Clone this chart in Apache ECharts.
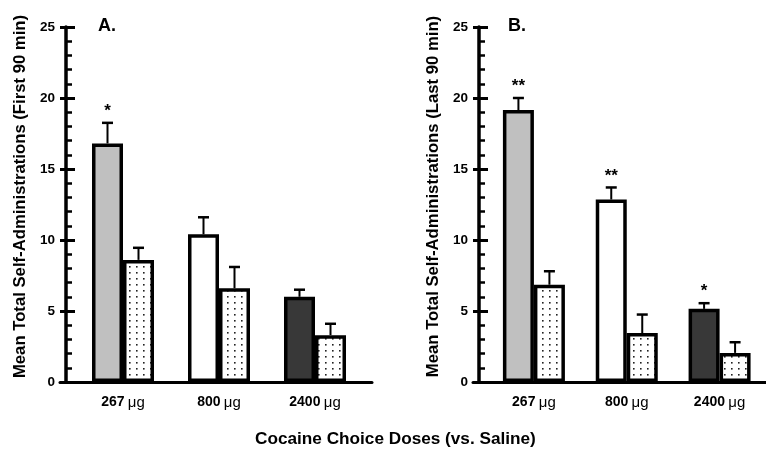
<!DOCTYPE html>
<html><head><meta charset="utf-8">
<script src="https://cdn.jsdelivr.net/npm/echarts@6/dist/echarts.min.js"></script>
<style>html,body{margin:0;padding:0;background:#fff}#c{width:766px;height:449px}</style>
</head><body><div id="c"></div>
<script>
// ---- data ----
const categories = ['267', '800', '2400'];
const catUnit = 'μg';
const aCocaine = [16.8, 10.4, 6.0];
const aCocaineSem = [1.45, 1.2, 0.5];
const aSaline = [8.6, 6.6, 3.3];
const aSalineSem = [0.85, 1.5, 0.8];
const bCocaine = [19.15, 12.85, 5.15];
const bCocaineSem = [0.85, 0.85, 0.4];
const bSaline = [6.85, 3.45, 2.05];
const bSalineSem = [0.95, 1.3, 0.75];
const sigA = ['*', '', ''];
const sigB = ['**', '**', '*'];
const yTicks = [0, 5, 10, 15, 20, 25];
const titleA = 'A.';
const titleB = 'B.';
const yNameA = 'Mean Total Self-Administrations (First 90 min)';
const yNameB = 'Mean Total Self-Administrations (Last 90 min)';
const xName = 'Cocaine Choice Doses (vs. Saline)';

// ---- styles ----
const FONT = 'Liberation Sans, Arial, sans-serif';
const BAR_W = 31;
const cocaineColors = ['#c0c0c0', '#ffffff', '#383838'];

function dotPattern() {
  const c = document.createElement('canvas');
  c.width = 7; c.height = 6;
  const g = c.getContext('2d');
  g.fillStyle = '#fff'; g.fillRect(0, 0, 7, 6);
  g.fillStyle = '#222'; g.fillRect(3, 2, 1.6, 1.6);
  return c;
}
const dots = { image: dotPattern(), repeat: 'repeat' };

const grids = [
  { left: 75, width: 288, top: 27, height: 355 },   // A bars
  { left: 60, width: 312, top: 27, height: 355 },   // A axis line
  { left: 487.5, width: 279, top: 27, height: 355 },// B bars
  { left: 473, width: 293, top: 27, height: 355 }   // B axis line
];

function catAxis(gi) {
  return {
    type: 'category', gridIndex: gi, data: categories,
    axisLine: { show: false }, axisTick: { show: false },
    axisLabel: {
      interval: 0, hideOverlap: false,
      margin: 13, color: '#000',
      formatter: v => '{n|' + v + '} {u|' + catUnit + '}',
      rich: {
        n: { fontFamily: FONT, fontWeight: 'bold', fontSize: 14, color: '#000' },
        u: { fontFamily: FONT, fontWeight: 'normal', fontSize: 15, color: '#000' }
      }
    }
  };
}
function lineAxis(gi) {
  return {
    type: 'category', gridIndex: gi, data: categories,
    axisLine: { show: true, lineStyle: { color: '#000', width: 3 } },
    axisTick: { show: false }, axisLabel: { show: false }
  };
}
function valAxis(gi, off, name) {
  return {
    type: 'value', gridIndex: gi, min: yTicks[0], max: yTicks[yTicks.length - 1], interval: yTicks[1] - yTicks[0],
    position: 'left', offset: off,
    name: name, nameLocation: 'middle', nameGap: 37,
    nameTextStyle: { fontFamily: FONT, fontWeight: 'bold', fontSize: 16.7, color: '#000', padding: [0, 0, 0, 16] },
    axisLine: { show: true, lineStyle: { color: '#000', width: 3.5 } },
    axisTick: { show: true, inside: true, length: 9, lineStyle: { color: '#000', width: 3 } },
    minorTick: { show: true, splitNumber: 5, length: 6, lineStyle: { color: '#000', width: 2.5 } },
    splitLine: { show: false },
    axisLabel: { margin: 11, fontFamily: FONT, fontWeight: 'bold', fontSize: 13.5, color: '#000' }
  };
}
function outTickAxis(gi, off) {
  return {
    type: 'value', gridIndex: gi, min: yTicks[0], max: yTicks[yTicks.length - 1], interval: yTicks[1] - yTicks[0],
    position: 'left', offset: off,
    axisLine: { show: false },
    axisTick: { show: true, inside: false, length: 6, lineStyle: { color: '#000', width: 3 } },
    axisLabel: { show: false }, splitLine: { show: false }
  };
}
function hiddenVal(gi) {
  return { type: 'value', gridIndex: gi, min: 0, max: 25, show: false };
}

function barSeries(xi, yi, vals, colors, useDots) {
  return {
    type: 'bar', xAxisIndex: xi, yAxisIndex: yi, barWidth: BAR_W, barGap: '0%',
    data: vals.map((v, i) => ({
      value: v,
      itemStyle: { color: useDots ? dots : colors[i], borderColor: '#000', borderWidth: 3.5 }
    })),
    z: 3
  };
}
function errSeries(xi, yi, vals, sems, side, sig) {
  return {
    type: 'custom', xAxisIndex: xi, yAxisIndex: yi, z: 2,
    data: vals.map((v, i) => [i, v, sems[i], sig ? sig[i] : '']),
    encode: { x: 0, y: 1 },
    renderItem: function (params, api) {
      const base = api.coord([api.value(0), api.value(1)]);
      const top = api.coord([api.value(0), api.value(1) + api.value(2)]);
      const x = base[0] + side * BAR_W / 2;
      const children = [
        { type: 'line', shape: { x1: x, y1: base[1], x2: x, y2: top[1] }, style: { stroke: '#000', lineWidth: 2 } },
        { type: 'line', shape: { x1: x - 5.5, y1: top[1], x2: x + 5.5, y2: top[1] }, style: { stroke: '#000', lineWidth: 2.5 } }
      ];
      const s = api.value(3);
      if (s) {
        children.push({ type: 'text', x: x, y: top[1] - 3,
          style: { text: s, fontFamily: FONT, fontWeight: 'bold', fontSize: 17, fill: '#000', align: 'center', verticalAlign: 'bottom' } });
      }
      return { type: 'group', children: children };
    }
  };
}

const option = {
  backgroundColor: '#fff',
  animation: false,
  title: [
    { text: titleA, left: 93, top: 12, textStyle: { fontFamily: FONT, fontWeight: 'bold', fontSize: 18, color: '#000' } },
    { text: titleB, left: 503, top: 12, textStyle: { fontFamily: FONT, fontWeight: 'bold', fontSize: 18, color: '#000' } },
    { text: xName, left: 250, top: 426, textStyle: { fontFamily: FONT, fontWeight: 'bold', fontSize: 17.2, color: '#000' } }
  ],
  grid: grids,
  xAxis: [catAxis(0), lineAxis(1), catAxis(2), lineAxis(3)],
  yAxis: [valAxis(0, 9, yNameA), outTickAxis(0, 9), hiddenVal(1), valAxis(2, 8.5, yNameB), outTickAxis(2, 8.5), hiddenVal(3)],
  series: [
    barSeries(0, 0, aCocaine, cocaineColors, false),
    barSeries(0, 0, aSaline, null, true),
    errSeries(0, 0, aCocaine, aCocaineSem, -1, sigA),
    errSeries(0, 0, aSaline, aSalineSem, 1, null),
    barSeries(2, 3, bCocaine, cocaineColors, false),
    barSeries(2, 3, bSaline, null, true),
    errSeries(2, 3, bCocaine, bCocaineSem, -1, sigB),
    errSeries(2, 3, bSaline, bSalineSem, 1, null)
  ]
};
echarts.init(document.getElementById('c'), null, { renderer: 'canvas' }).setOption(option);
</script>
</body></html>
